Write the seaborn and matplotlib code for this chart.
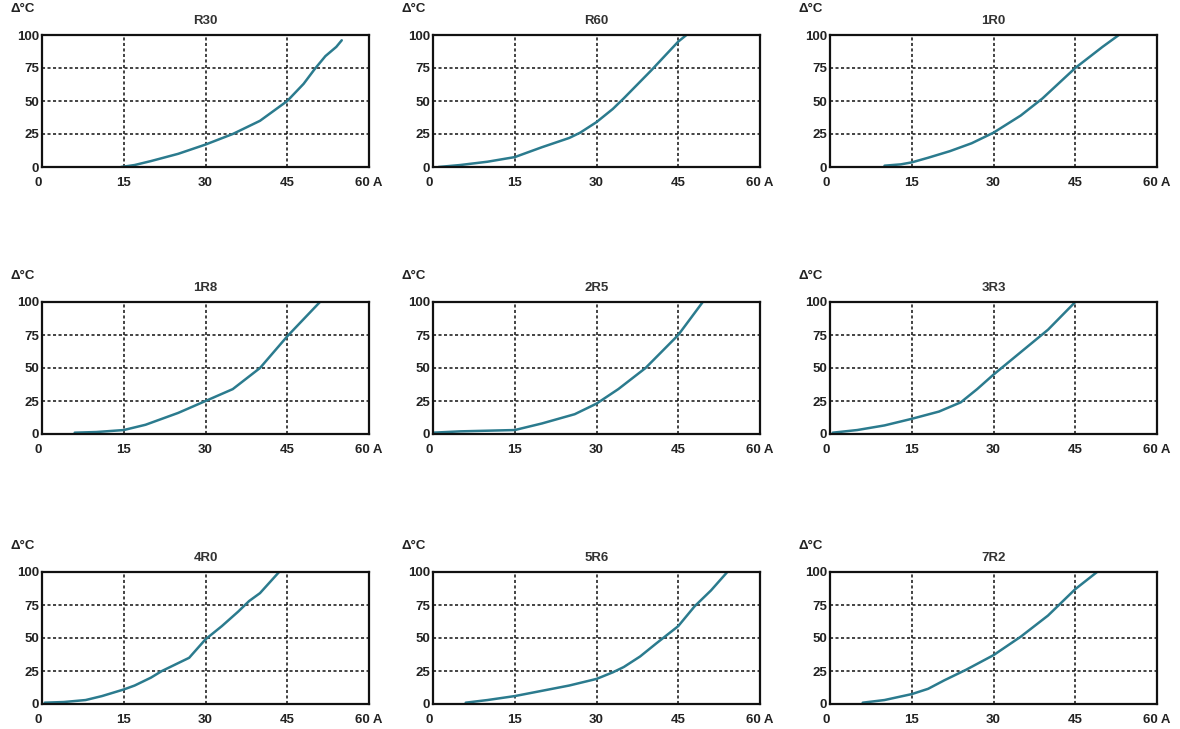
import matplotlib
matplotlib.use("Agg")
import matplotlib.pyplot as plt
import seaborn as sns

# Temperature rise vs current, one panel per resistor value
r30_a = [14.5, 17, 20, 25, 30, 35, 40, 45, 48, 50, 52, 54, 55]
r30_t = [0, 1.5, 4.5, 10, 17, 25, 35, 50, 63, 74, 84, 91, 96]

r60_a = [1, 5, 10, 15, 20, 25, 27, 30, 33, 35, 40, 45, 46.5]
r60_t = [0, 1.5, 4, 7.5, 15, 22, 26, 34, 44, 52, 73, 95, 100]

r1r0_a = [10, 13, 15, 18, 22, 26, 30, 35, 39, 45, 50, 53]
r1r0_t = [1, 2, 3.5, 7, 12, 18, 26, 39, 52, 75, 91, 100]

r1r8_a = [6, 10, 15, 19, 25, 30, 35, 40, 45, 51]
r1r8_t = [1, 1.5, 3, 7, 16, 25, 34, 50, 74, 100]

r2r5_a = [0, 5, 10, 15, 20, 26, 30, 34, 39, 45, 49.5]
r2r5_t = [1, 2, 2.5, 3, 8, 15, 23, 34, 50, 75, 100]

r3r3_a = [0.5, 5, 10, 15, 20, 24, 27, 30, 35, 40, 45]
r3r3_t = [1, 3, 6.5, 11.5, 17, 24, 34, 45, 62, 79, 100]

r4r0_a = [0.5, 4, 8, 11, 15, 17, 20, 22, 25, 27, 30, 33, 36, 38, 40, 43.5]
r4r0_t = [1, 1.5, 3, 6, 11, 14, 20, 25, 31, 35, 49, 59, 70, 78, 84, 100]

r5r6_a = [6, 10, 15, 20, 25, 30, 33, 35, 38, 41, 45, 48, 51, 54]
r5r6_t = [1, 3, 6, 10, 14, 19, 24, 28, 36, 46, 59, 74, 86, 100]

r7r2_a = [6, 10, 15, 18, 21, 25, 30, 35, 40, 45, 49]
r7r2_t = [1, 3, 7.5, 11.5, 18, 26, 37, 51, 67, 87, 100]

titles = ["R30", "R60", "1R0", "1R8", "2R5", "3R3", "4R0", "5R6", "7R2"]
currents = [r30_a, r60_a, r1r0_a, r1r8_a, r2r5_a, r3r3_a, r4r0_a, r5r6_a, r7r2_a]
temps = [r30_t, r60_t, r1r0_t, r1r8_t, r2r5_t, r3r3_t, r4r0_t, r5r6_t, r7r2_t]

x_ticks = [0, 15, 30, 45, 60]
x_labels = ["0", "15", "30", "45", "60 A"]
y_ticks = [0, 25, 50, 75, 100]
y_labels = ["0", "25", "50", "75", "100"]

sns.set_style("white")
plt.rcParams['font.family'] = ['Liberation Sans', 'DejaVu Sans']

W, H = 1180, 729
fig = plt.figure(figsize=(W / 100, H / 100), dpi=100)

# panel frame positions in pixels
col_left = [42, 433, 830]
row_top = [35, 302, 572]
pw, ph = 327, 132

for i, name in enumerate(titles):
    r, c = divmod(i, 3)
    ax = fig.add_axes([col_left[c] / W, 1 - (row_top[r] + ph) / H, pw / W, ph / H])
    sns.lineplot(x=currents[i], y=temps[i], ax=ax, color="#2b7b8e", linewidth=1.8)
    ax.set_xlim(0, 60)
    ax.set_ylim(0, 100)
    ax.set_xticks(x_ticks)
    ax.set_xticklabels(x_labels)
    ax.set_yticks(y_ticks)
    ax.set_yticklabels(y_labels)
    ax.tick_params(length=0, labelsize=9.5)
    ax.tick_params(axis='x', pad=7)
    ax.tick_params(axis='y', pad=2)
    for lab in ax.get_xticklabels() + ax.get_yticklabels():
        lab.set_fontweight('bold')
        lab.set_color('#222222')
    ax.xaxis.get_majorticklabels()[0].set_horizontalalignment('right')
    ax.grid(True, color='#111111', linestyle=(0, (2, 1.6)), linewidth=1.1)
    for s in ax.spines.values():
        s.set_color('#111111')
        s.set_linewidth(1.6)
    ax.set_title(name, fontsize=9.5, fontweight='bold', color='#333333', pad=8)
    ax.text(-0.06, 1.2, "Δ°C", transform=ax.transAxes, ha='center', va='center',
            fontsize=9.5, fontweight='bold', color='#222222')
    ax.set_xlabel("")
    ax.set_ylabel("")

plt.savefig("out.png", dpi=100)
